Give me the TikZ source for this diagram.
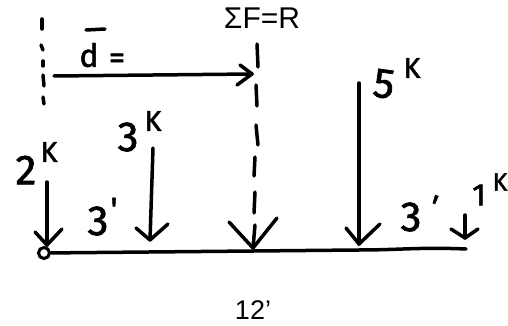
\documentclass[tikz,border=0pt]{standalone}
\usepackage{fontspec}
\setmainfont{Liberation Sans}
\newfontfamily\handfont[FakeBold=1.6]{Fira Sans}
\tikzset{
  ink/.style={line width=3.5pt,line cap=round,line join=round,black},
  typed/.style={inner sep=0pt,font=\fontsize{30}{30}\selectfont},
  typedsmall/.style={inner sep=0pt,font=\fontsize{27}{27}\selectfont},
  hand/.style={inner sep=0pt,font=\handfont\fontsize{42}{42}\selectfont},
  handone/.style={inner sep=0pt,font=\handfont\fontsize{31}{31}\selectfont},
  handsup/.style={inner sep=0pt,font=\handfont\fontsize{29}{29}\selectfont},
  handsupedge/.style={inner sep=0pt,font=\handfont\fontsize{25}{25}\selectfont},
  handd/.style={inner sep=0pt,font=\handfont\fontsize{32}{32}\selectfont},
  handeq/.style={inner sep=0pt,font=\handfont\fontsize{32}{32}\selectfont},
  handprime/.style={inner sep=0pt,font=\handfont\fontsize{32}{32}\selectfont},
}
\begin{document}
\begin{tikzpicture}[x=1pt,y=-1pt]
\useasboundingbox (0,0) rectangle (508,326);
% typed labels
\node[typed] (title) at (262,18) {ΣF=R};
\node[typedsmall] (span) at (253,310) {12'};
% handwritten labels
\node[handd] (dlab) at (89,55) {d};
\node[handeq] (eq) at (117,61) {=};
\node[hand] (two) at (26,170) {2};
\node[handsup] (twok) at (49,152) {K};
\node[hand] (three) at (128,137) {3};
\node[handsup] (threek) at (153,121) {K};
\node[hand,rotate=-8] (five) at (384,84) {5};
\node[handsup] (fivek) at (412,68) {K};
\node[handone] (one) at (479,195) {1};
\node[handsupedge] (onek) at (500,182) {K};
\node[hand] (dista) at (98,221) {3};
\node[handprime] (distap) at (114,209) {'};
\node[hand] (distb) at (411,217) {3};
\node[handprime,rotate=-20] (distbp) at (433,206) {'};
% named points
\coordinate (lt) at (42,19); \coordinate (lb) at (44,104);
\coordinate (rt) at (257,44); \coordinate (rb) at (253,248);
\coordinate (ds) at (54,76); \coordinate (de) at (252,74);
\coordinate (a2t) at (47,182); \coordinate (a2b) at (47,245);
\coordinate (a3t) at (153,148); \coordinate (a3b) at (150,240);
\coordinate (a5t) at (359,83); \coordinate (a5b) at (359,244);
\coordinate (a1t) at (465,215); \coordinate (a1b) at (465,238);
\coordinate (bm) at (358,250); \coordinate (br) at (466,249);
% pivot
\node[draw,circle,line width=3pt,minimum size=11pt,inner sep=0pt] (pin) at (44,253) {};
% beam
\draw[ink] (pin) -- (bm) .. controls (400,250) and (420,247) .. (br);
% overbar of d
\draw[ink] (86,30) -- (105,29);
% left dashed line
\draw[ink] (lt) -- (42,29);
\draw[ink] (41,45) -- (43,50);
\draw[ink] (43,61) -- (43,66);
\draw[ink] (43,75) -- (44,86);
\draw[ink] (43,97) -- (lb);
% resultant dashed line
\draw[ink] (rt) -- (258,67);
\draw[ink] (256,85) -- (257,106);
\draw[ink] (256,125) -- (258,145);
\draw[ink] (255,157) -- (254,176);
\draw[ink] (255,192) -- (254,213);
\draw[ink] (255,225) -- (rb);
% distance arrow
\draw[ink] (ds) -- (de);
\draw[ink] (240,65) -- (de) -- (237,85);
% load arrows
\draw[ink] (a2t) -- (a2b);
\draw[ink] (35,232) -- (a2b) -- (62,229);
\draw[ink] (a3t) -- (a3b);
\draw[ink] (136,228) -- (a3b) -- (168,224);
\draw[ink] (229,222) -- (rb) -- (277,218);
\draw[ink] (a5t) -- (a5b);
\draw[ink] (346,228) -- (a5b) -- (380,224);
\draw[ink] (a1t) -- (a1b);
\draw[ink] (451,229) -- (a1b) -- (478,229);
\end{tikzpicture}
\end{document}
